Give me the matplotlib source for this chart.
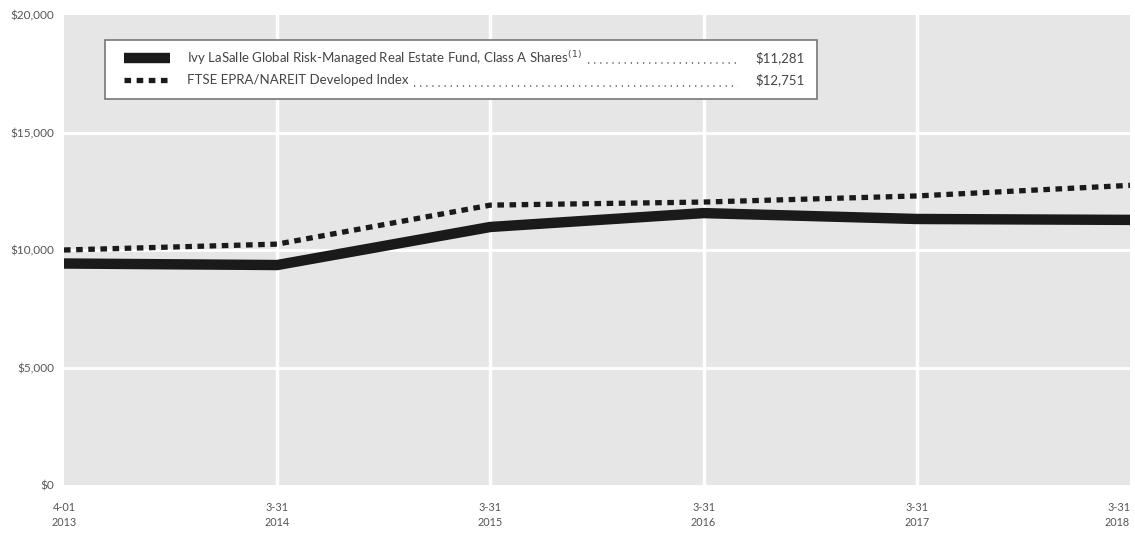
import matplotlib
matplotlib.use("Agg")
import matplotlib.pyplot as plt
from matplotlib.patches import Rectangle

plt.rcParams['font.family'] = ['Lato', 'DejaVu Sans']

# data
dates = ['4-01\n2013', '3-31\n2014', '3-31\n2015', '3-31\n2016', '3-31\n2017', '3-31\n2018']
fund = [9425, 9360, 10980, 11570, 11320, 11281]
index = [10000, 10250, 11910, 12040, 12300, 12751]
fund_name = 'Ivy LaSalle Global Risk-Managed Real Estate Fund, Class A Shares$^{(1)}$'
index_name = 'FTSE EPRA/NAREIT Developed Index'
fund_end = '$11,281'
index_end = '$12,751'
yticks = [0, 5000, 10000, 15000, 20000]

fig = plt.figure(figsize=(11.35, 5.38), dpi=100)
ax = fig.add_axes([64/1135, 1-485/538, 1066/1135, 470/538])
ax.set_facecolor('#e6e6e7')
for s in ax.spines.values():
    s.set_visible(False)

dots = (0, (1.25, 1.05))
x = list(range(len(dates)))
ax.plot(x, fund, color='#1a1a1a', lw=7.5, solid_joinstyle='miter',
        solid_capstyle='butt', zorder=3)
ax.plot(x, index, color='#1a1a1a', lw=3.8, linestyle=dots,
        dash_capstyle='butt', zorder=3)

ax.set_xlim(0, 5)
ax.set_ylim(0, 20000)
ax.set_xticks(x)
ax.set_xticklabels(dates)
ax.set_yticks(yticks)
ax.set_yticklabels(['${:,}'.format(v) for v in yticks])
ax.tick_params(length=0, colors='#555555', labelsize=8.5)
ax.tick_params(axis='x', pad=12, labelsize=7.8)
ax.tick_params(axis='y', pad=7)
for t in ax.get_xticklabels():
    t.set_linespacing(1.5)
ax.get_xticklabels()[-1].set_ha('right')
ax.get_xticklabels()[-1].set_x(5.02)
for v in [5000, 10000, 15000]:
    ax.axhline(v, color='white', lw=2, zorder=1)
for xv in x[1:-1]:
    ax.axvline(xv, color='white', lw=2.5, zorder=1)

# legend box
ax.add_patch(Rectangle((0.0385, 0.821), 0.668, 0.126, transform=ax.transAxes,
                       facecolor='white', edgecolor='#777777', lw=1.2, zorder=5))
rows = [(0.909, fund_name, fund_end, dict(lw=7.5, linestyle='-', solid_capstyle='butt')),
        (0.862, index_name, index_end, dict(lw=3.8, linestyle=dots,
                                            dash_capstyle='butt'))]
fig.canvas.draw()
r = fig.canvas.get_renderer()
inv = ax.transAxes.inverted()
for yy, name, val, st in rows:
    ax.plot([0.056, 0.099], [yy, yy], transform=ax.transAxes, color='#1a1a1a',
            zorder=6, **st)
    t = ax.text(0.115, yy, name, transform=ax.transAxes, fontsize=9.5,
                color='#444444', va='center', zorder=6)
    ax.text(0.695, yy, val, transform=ax.transAxes, fontsize=9.5,
            color='#444444', va='center', ha='right', zorder=6)
    bb = t.get_window_extent(r)
    x0 = inv.transform((bb.x1, 0))[0] + 0.006
    ax.plot([x0, 0.632], [yy - 0.012, yy - 0.012], transform=ax.transAxes,
            color='#555555', lw=1.1, linestyle=(0, (0.8, 3.2)), zorder=6)

fig.savefig('out.png', dpi=100)
